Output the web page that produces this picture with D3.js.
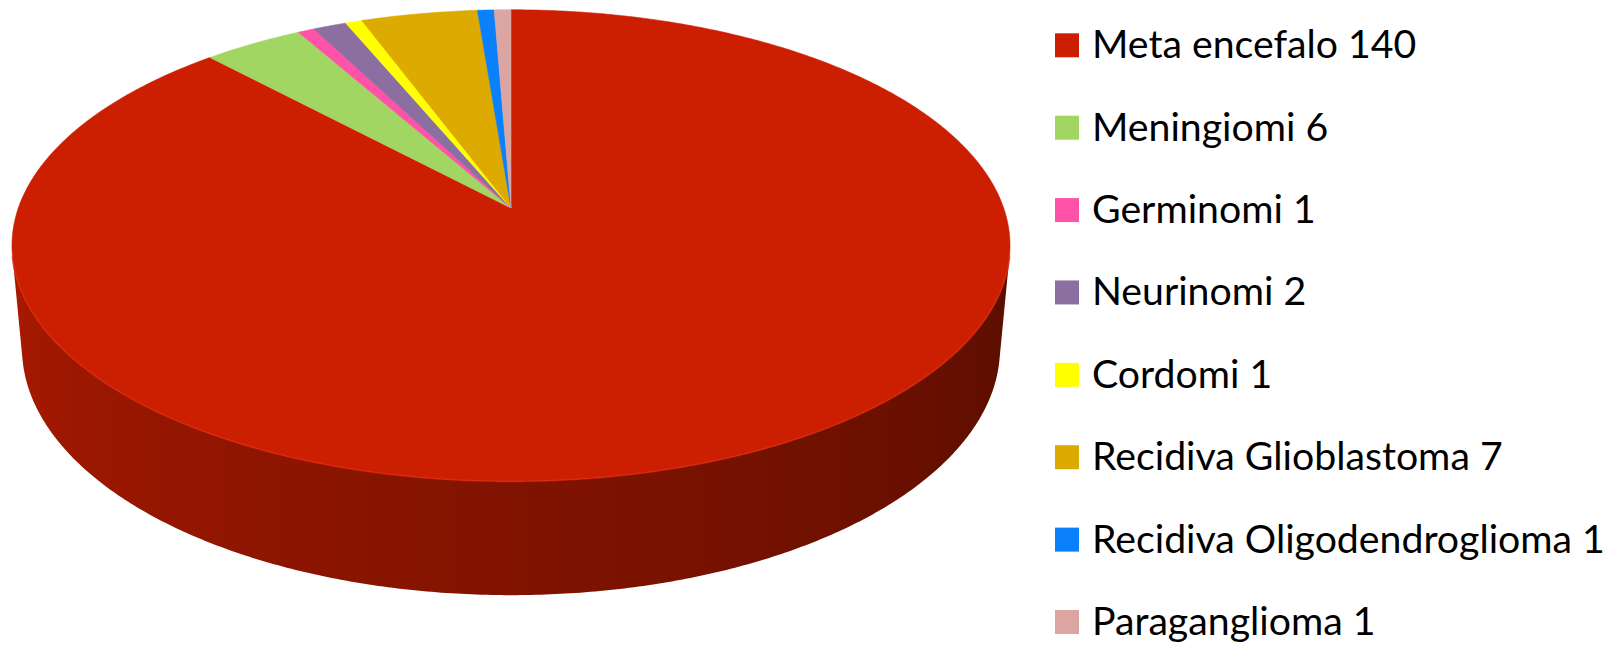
<!DOCTYPE html>
<html>
<head>
<meta charset="utf-8">
<script src="https://cdn.jsdelivr.net/npm/d3@7"></script>
<style>
  html, body { margin: 0; padding: 0; background: #fff; }
  svg { display: block; }
</style>
</head>
<body>
<div id="chart"></div>
<script>
// data
var categories = ["Meta encefalo", "Meningiomi", "Germinomi", "Neurinomi", "Cordomi",
  "Recidiva Glioblastoma", "Recidiva Oligodendroglioma", "Paraganglioma"];
var values = [140, 6, 1, 2, 1, 7, 1, 1];
var colors = ["#cc1e00", "#a2d663", "#ff52a8", "#8a6fa0", "#ffff00", "#dcaa00", "#0a80fb", "#dba6a2"];

var W = 1620, H = 647;
var svg = d3.select("#chart").append("svg").attr("width", W).attr("height", H);
var defs = svg.append("defs");

// 3d pie camera (disc of radius 1, top face at y = 0)
var cx = 511, cy = 208;
var elev = 27.8 * Math.PI / 180, dist = 5.56, depthH = 0.2375;
var s = Math.sin(elev), c = Math.cos(elev);
var halfW = 499;
var f = halfW * dist * Math.sqrt(1 - (c / dist) * (c / dist));

function project(a, y) {
  var x = Math.sin(a), z = -Math.cos(a);
  var yc = y * c - z * s;
  var dep = dist - (y * s + z * c);
  return [cx + f * x / dep, cy - f * yc / dep];
}

var pie = d3.pie().sort(null).value(function(d) { return d; });
var arcs = pie(values);

var line = d3.line();
var pieG = svg.append("g").attr("class", "pie3d");

// outer wall, only the part facing the camera
var lim = Math.acos(-1 / (dist * c));
var visLo = lim, visHi = 2 * Math.PI - lim;
var shade = d3.scaleLinear().domain([visLo, Math.PI, visHi]).range([0.44, 0.63, 0.83]);
var step = Math.PI / 360;
var xRight = project(visLo, 0)[0], xLeft = project(visHi, 0)[0];

arcs.forEach(function(d, i) {
  var a0 = Math.max(d.startAngle, visLo), a1 = Math.min(d.endAngle, visHi);
  if (a1 <= a0) return;
  var base = d3.rgb(colors[i]);
  var gid = "wall" + i;
  var grad = defs.append("linearGradient").attr("id", gid)
    .attr("gradientUnits", "userSpaceOnUse")
    .attr("x1", xLeft).attr("y1", 0).attr("x2", xRight).attr("y2", 0);
  d3.range(0, 41).map(function(j) { return visHi - (visHi - visLo) * j / 40; })
    .forEach(function(a) {
      var k = shade(a);
      grad.append("stop")
        .attr("offset", (project(a, -depthH / 2)[0] - xLeft) / (xRight - xLeft))
        .attr("stop-color", d3.rgb(base.r * k, base.g * k, base.b * k));
    });
  var top = [], bot = [];
  var n = Math.max(2, Math.ceil((a1 - a0) / step));
  for (var j = 0; j <= n; j++) {
    var a = a0 + (a1 - a0) * j / n;
    top.push(project(a, 0));
    bot.unshift(project(a, -depthH));
  }
  pieG.append("path")
    .attr("d", line(top.concat(bot)) + "Z")
    .attr("fill", "url(#" + gid + ")");
});

// top faces
arcs.forEach(function(d, i) {
  var pts = [[cx, cy]];
  var n = Math.max(4, Math.ceil((d.endAngle - d.startAngle) / step));
  for (var j = 0; j <= n; j++) {
    pts.push(project(d.startAngle + (d.endAngle - d.startAngle) * j / n, 0));
  }
  pieG.append("path")
    .attr("d", line(pts) + "Z")
    .attr("fill", colors[i])
    .attr("stroke", colors[i])
    .attr("stroke-width", 0.6)
    .attr("stroke-linejoin", "round");
});

// soft light rim on the front edge of the top face
var rim = [];
for (var a = visLo; a <= visHi; a += step) rim.push(project(a, 0));
pieG.append("path")
  .attr("d", line(rim))
  .attr("fill", "none")
  .attr("stroke", "#dd2a0c")
  .attr("stroke-width", 2)
  .attr("stroke-opacity", 0.6);

// legend
var legend = svg.append("g").attr("class", "legend");
var rowY = d3.scalePoint().domain(categories).range([45.3, 622]);
var items = legend.selectAll("g.item")
  .data(categories)
  .enter().append("g")
  .attr("class", "item")
  .attr("transform", function(d) { return "translate(1055," + rowY(d) + ")"; });

items.append("rect")
  .attr("x", 0).attr("y", -12)
  .attr("width", 24).attr("height", 24)
  .attr("fill", function(d, i) { return colors[i]; });

var labels = items.append("text")
  .attr("x", 37).attr("y", 13)
  .attr("font-family", "Lato, 'Open Sans', sans-serif")
  .attr("font-size", 36)
  .attr("fill", "#000")
  .text(function(d, i) { return d + " " + values[i]; });

// fit the font to the longest label width in the original
var longest = labels.filter(function(d, i) { return i === 6; }).node();
var wNow = longest.getComputedTextLength();
var fs = 36 * 513 / wNow;
labels.attr("font-size", fs);
</script>
</body>
</html>
